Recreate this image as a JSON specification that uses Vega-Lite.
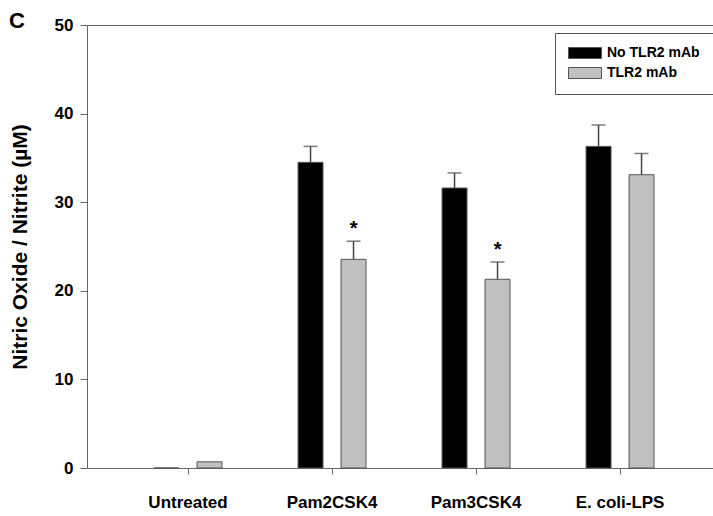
{
  "$schema": "https://vega.github.io/schema/vega-lite/v6.json",
  "width": 626,
  "height": 443,
  "autosize": {"type": "none"},
  "padding": {"left": 87, "top": 25, "right": 0, "bottom": 48},
  "background": "white",
  "config": {
    "view": {"stroke": null},
    "font": "Liberation Sans"
  },
  "title": {
    "text": "C",
    "anchor": "start",
    "frame": "bounds",
    "orient": "top",
    "fontSize": 22,
    "fontWeight": "bold",
    "font": "Liberation Sans",
    "color": "black",
    "baseline": "bottom",
    "offset": -39
  },
  "data": {
    "values": [
      {"group": "Untreated", "treatment": "No TLR2 mAb", "value": 0, "err": null, "star": ""},
      {"group": "Untreated", "treatment": "TLR2 mAb", "value": 0.7, "err": null, "star": ""},
      {"group": "Pam2CSK4", "treatment": "No TLR2 mAb", "value": 34.5, "err": 36.3, "star": ""},
      {"group": "Pam2CSK4", "treatment": "TLR2 mAb", "value": 23.55, "err": 25.6, "star": "*"},
      {"group": "Pam3CSK4", "treatment": "No TLR2 mAb", "value": 31.6, "err": 33.3, "star": ""},
      {"group": "Pam3CSK4", "treatment": "TLR2 mAb", "value": 21.3, "err": 23.25, "star": "*"},
      {"group": "E. coli-LPS", "treatment": "No TLR2 mAb", "value": 36.3, "err": 38.7, "star": ""},
      {"group": "E. coli-LPS", "treatment": "TLR2 mAb", "value": 33.1, "err": 35.5, "star": ""}
    ]
  },
  "encoding": {
    "x": {
      "field": "group",
      "type": "nominal",
      "sort": ["Untreated", "Pam2CSK4", "Pam3CSK4", "E. coli-LPS"],
      "scale": {"paddingInner": 0.528, "paddingOuter": 0.4375, "align": 0.532}
    },
    "xOffset": {
      "field": "treatment",
      "type": "nominal",
      "sort": ["No TLR2 mAb", "TLR2 mAb"],
      "scale": {"paddingInner": 0.419, "paddingOuter": 0}
    },
    "y": {
      "type": "quantitative",
      "scale": {"domain": [0, 50], "nice": false, "zero": true},
      "axis": {
        "title": "Nitric Oxide / Nitrite (µM)",
        "titleFont": "Liberation Sans",
        "titleFontSize": 21,
        "titleFontWeight": "bold",
        "titleColor": "black",
        "titlePadding": 24,
        "values": [0, 10, 20, 30, 40, 50],
        "grid": false,
        "domainColor": "#666",
        "tickColor": "#666",
        "tickSize": 7,
        "labelPadding": 7,
        "labelFontSize": 17,
        "labelFontWeight": "bold",
        "labelColor": "black"
      }
    }
  },
  "layer": [
    {
      "mark": {"type": "bar", "stroke": "#555", "strokeWidth": 1},
      "encoding": {
        "y": {
          "field": "value",
          "type": "quantitative",
          "title": "Nitric Oxide / Nitrite (µM)"
        },
        "x": {
          "field": "group",
          "type": "nominal",
          "sort": ["Untreated", "Pam2CSK4", "Pam3CSK4", "E. coli-LPS"],
          "axis": {
            "title": null,
            "labelAngle": 0,
            "domainColor": "#666",
            "tickColor": "#666",
            "tickSize": 6,
            "labelPadding": 20,
            "labelFontSize": 17,
            "labelFontWeight": "bold",
            "labelColor": "black"
          }
        },
        "color": {
          "field": "treatment",
          "type": "nominal",
          "scale": {"domain": ["No TLR2 mAb", "TLR2 mAb"], "range": ["#000000", "#c0c0c0"]},
          "legend": {
            "title": null,
            "orient": "none",
            "legendX": 468,
            "legendY": 8,
            "strokeColor": "#555",
            "fillColor": "white",
            "padding": 13,
            "symbolType": "M-3.3,-1.1H3.3V1.1H-3.3Z",
            "symbolSize": 100,
            "symbolOffset": 10,
            "symbolStrokeColor": "#555",
            "symbolStrokeWidth": 1,
            "labelFont": "Liberation Sans",
            "labelFontSize": 14,
            "labelFontWeight": "bold",
            "labelColor": "black",
            "labelOffset": 15,
            "rowPadding": 4
          }
        }
      }
    },
    {
      "transform": [{"filter": "datum.err != null"}],
      "mark": {"type": "rule", "color": "#444", "strokeWidth": 1.5},
      "encoding": {
        "x": {
          "field": "group",
          "type": "nominal",
          "sort": ["Untreated", "Pam2CSK4", "Pam3CSK4", "E. coli-LPS"],
          "axis": {"orient": "top", "labels": false, "ticks": false, "title": null, "domainColor": "#666"}
        },
        "y": {"field": "value", "type": "quantitative", "title": "Nitric Oxide / Nitrite (µM)"},
        "y2": {"field": "err"}
      }
    },
    {
      "transform": [{"filter": "datum.err != null"}],
      "mark": {"type": "tick", "color": "#444", "size": 14, "thickness": 1.5},
      "encoding": {
        "x": {"field": "group", "type": "nominal", "sort": ["Untreated", "Pam2CSK4", "Pam3CSK4", "E. coli-LPS"], "axis": null},
        "y": {"field": "err", "type": "quantitative", "title": "Nitric Oxide / Nitrite (µM)"}
      }
    },
    {
      "transform": [{"filter": "datum.star == '*'"}],
      "mark": {"type": "text", "fontSize": 20, "fontWeight": "bold", "font": "Liberation Sans", "color": "black", "baseline": "bottom", "dy": -2},
      "encoding": {
        "x": {"field": "group", "type": "nominal", "sort": ["Untreated", "Pam2CSK4", "Pam3CSK4", "E. coli-LPS"], "axis": null},
        "y": {"field": "err", "type": "quantitative", "title": "Nitric Oxide / Nitrite (µM)"},
        "text": {"field": "star"}
      }
    }
  ],
  "resolve": {"axis": {"x": "independent"}}
}
